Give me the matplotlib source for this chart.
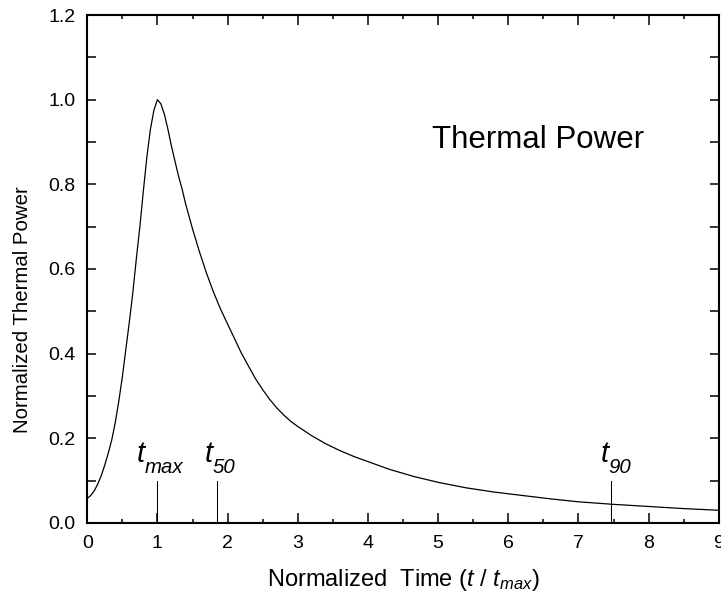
import matplotlib
matplotlib.use('Agg')
import matplotlib.pyplot as plt
from matplotlib.ticker import MultipleLocator, FormatStrFormatter

plt.rcParams['font.family'] = ['Liberation Sans', 'DejaVu Sans']
plt.rcParams['mathtext.fontset'] = 'custom'
plt.rcParams['mathtext.rm'] = 'Liberation Sans'
plt.rcParams['mathtext.it'] = 'Liberation Sans:italic'
plt.rcParams['mathtext.sf'] = 'Liberation Sans'

# courbe (t / t_max, puissance normalisee)
t = [0.0, 0.05, 0.1, 0.15, 0.2, 0.25, 0.3, 0.35, 0.4, 0.45, 0.5, 0.55,
     0.6, 0.65, 0.7, 0.75, 0.8, 0.85, 0.9, 0.95, 1.0, 1.05, 1.1, 1.15,
     1.2, 1.25, 1.3, 1.35, 1.4, 1.45, 1.5, 1.6, 1.7, 1.8, 1.9, 2.0,
     2.1, 2.2, 2.3, 2.4, 2.5, 2.6, 2.7, 2.8, 2.9, 3.0, 3.2, 3.4,
     3.6, 3.8, 4.0, 4.3, 4.65, 5.0, 5.4, 5.8, 6.2, 6.6, 7.0, 7.5,
     8.0, 8.5, 9.0]
puissance = [0.058, 0.065, 0.076, 0.092, 0.112, 0.137, 0.165, 0.197, 0.238, 0.288, 0.345, 0.41,
             0.475, 0.545, 0.625, 0.70, 0.785, 0.865, 0.93, 0.975, 1.0, 0.99, 0.965, 0.93,
             0.89, 0.855, 0.82, 0.79, 0.755, 0.725, 0.695, 0.64, 0.59, 0.545, 0.505, 0.47,
             0.435, 0.40, 0.37, 0.34, 0.315, 0.292, 0.272, 0.255, 0.24, 0.228, 0.206, 0.187,
             0.171, 0.157, 0.145, 0.127, 0.11, 0.096, 0.083, 0.073, 0.065, 0.057, 0.050, 0.044,
             0.039, 0.034, 0.030]

# temps caracteristiques
reperes = ['max', '50', '90']
t_reperes = [1.0, 1.845, 7.47]
hauteur_repere = 0.1
x_etiquettes = [0.705, 1.68, 7.31]
x_indices = [0.815, 1.79, 7.43]

fig = plt.figure(figsize=(7.21, 6.03), dpi=100)
ax = fig.add_axes([0.121, 0.1327, 0.876, 0.8424])

ax.plot(t, puissance, color='black', lw=0.9)

for nom, tr, xe, xi in zip(reperes, t_reperes, x_etiquettes, x_indices):
    ax.plot([tr, tr], [0, hauteur_repere], color='black', lw=0.75)
    ax.text(xe, 0.145, 't', fontsize=21, fontstyle='italic', ha='left', va='baseline')
    ax.text(xi, 0.118, nom, fontsize=14.7, fontstyle='italic', ha='left', va='baseline')

ax.text(4.91, 0.887, 'Thermal Power', fontsize=22.5, ha='left', va='baseline')

ax.set_xlim(0, 9)
ax.set_ylim(0, 1.2)
ax.xaxis.set_major_locator(MultipleLocator(1))
ax.xaxis.set_minor_locator(MultipleLocator(0.5))
ax.yaxis.set_major_locator(MultipleLocator(0.2))
ax.yaxis.set_minor_locator(MultipleLocator(0.1))
ax.yaxis.set_major_formatter(FormatStrFormatter('%.1f'))

ax.tick_params(axis='both', which='both', direction='in', top=True, right=True,
               width=1.1, labelsize=14)
ax.tick_params(axis='x', which='major', length=7.2, pad=9)
ax.tick_params(axis='x', which='minor', length=3.2)
ax.tick_params(axis='y', which='both', length=6.5, pad=8.5)
for s in ax.spines.values():
    s.set_linewidth(1.5)

ax.set_xlabel(r'Normalized  Time ($t$ / $t_{max}$)', fontsize=17)
ax.set_ylabel('Normalized Thermal Power', fontsize=14.7)
ax.xaxis.set_label_coords(0.5, -0.0866)
ax.yaxis.set_label_coords(-0.087, 0.421)

fig.savefig('out.png', dpi=100)
